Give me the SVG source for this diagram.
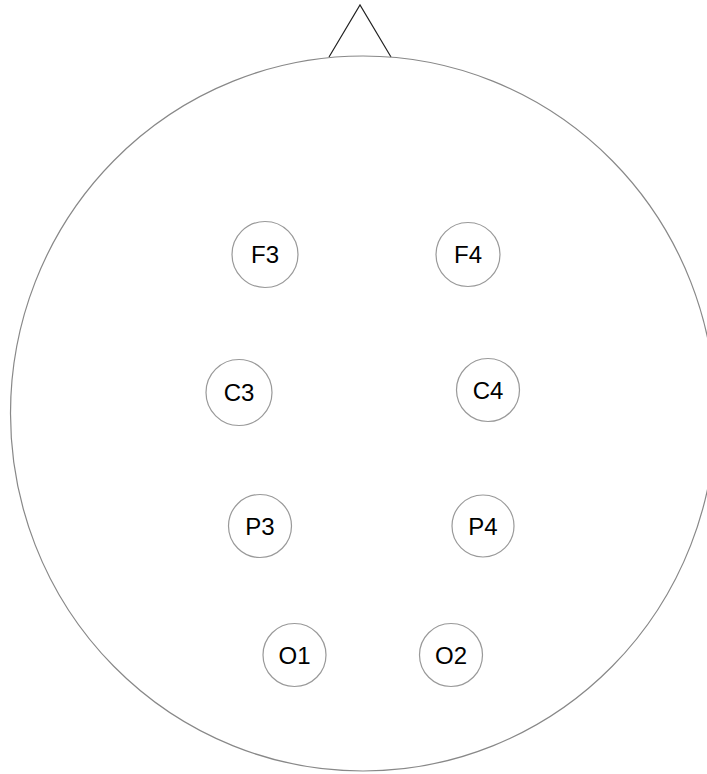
<svg xmlns="http://www.w3.org/2000/svg" width="707" height="774" viewBox="0 0 707 774">
<style>
.head{fill:none;stroke:#888;stroke-width:1.2}
.nose{fill:none;stroke:#222;stroke-width:1.2}
.el{fill:#fff;stroke:#999;stroke-width:1.2}
.lb{font-family:"Liberation Sans",Arial,sans-serif;font-size:24px;fill:#000;text-anchor:middle;dominant-baseline:central}
</style>
<rect width="707" height="774" fill="#fff"/>
<g id="head">
<polyline class="nose" points="329,57 360,5 391,57"/>
<ellipse class="head" cx="363" cy="413.5" rx="352.5" ry="357.5"/>
</g>
<g id="connectors"></g>
<g id="F3"><circle class="el" cx="265" cy="254.5" r="33"/><text class="lb" x="265" y="254.5">F3</text></g>
<g id="F4"><circle class="el" cx="468" cy="254.5" r="32"/><text class="lb" x="468" y="254.5">F4</text></g>
<g id="C3"><circle class="el" cx="239" cy="392.5" r="33"/><text class="lb" x="239" y="392.5">C3</text></g>
<g id="C4"><circle class="el" cx="488" cy="390" r="31.5"/><text class="lb" x="488" y="390">C4</text></g>
<g id="P3"><circle class="el" cx="260" cy="526" r="31.5"/><text class="lb" x="260" y="526">P3</text></g>
<g id="P4"><circle class="el" cx="483" cy="526" r="31"/><text class="lb" x="483" y="526">P4</text></g>
<g id="O1"><circle class="el" cx="294.5" cy="655" r="31.5"/><text class="lb" x="294.5" y="655">O1</text></g>
<g id="O2"><circle class="el" cx="451" cy="655" r="31.5"/><text class="lb" x="451" y="655">O2</text></g>
</svg>
